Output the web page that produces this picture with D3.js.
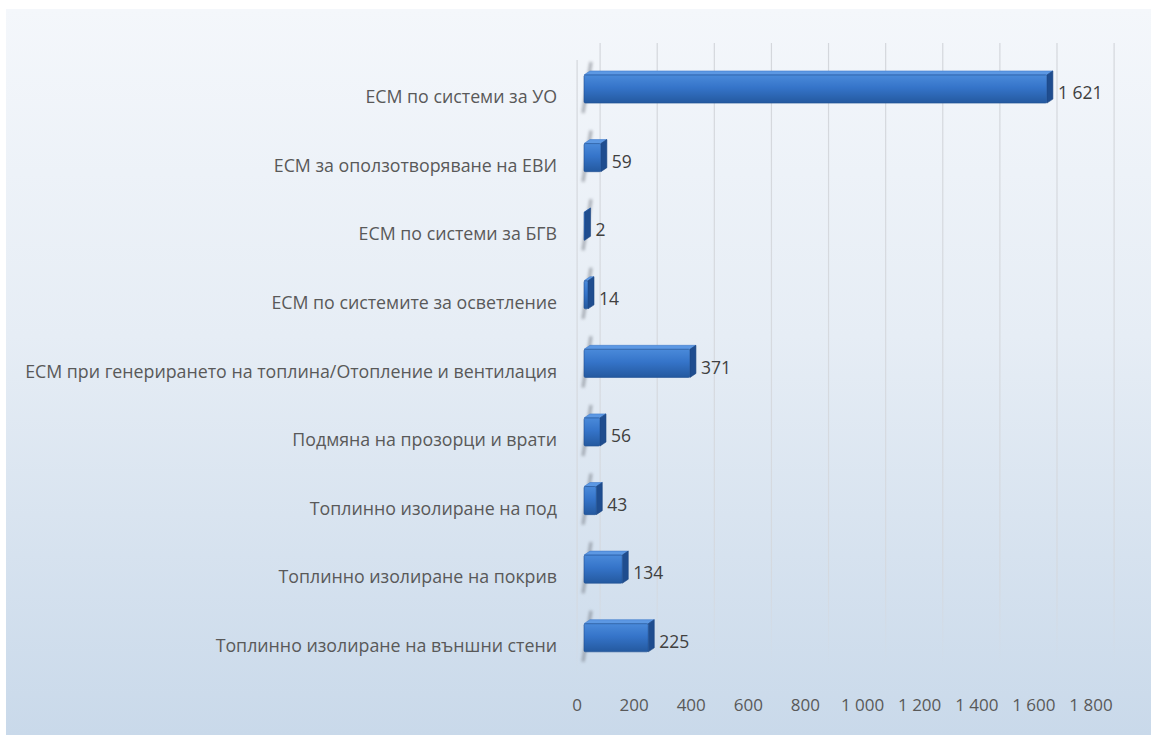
<!DOCTYPE html>
<meta charset="utf-8">
<style>
  body { margin: 0; background: #fff; }
  svg text { font-family: "Open Sans", sans-serif; }
</style>
<svg width="1151" height="735"></svg>
<script src="https://cdn.jsdelivr.net/npm/d3@7/dist/d3.min.js"></script>
<script>
// data
var categories = [
  "ЕСМ по системи за УО",
  "ЕСМ за оползотворяване на ЕВИ",
  "ЕСМ по системи за БГВ",
  "ЕСМ по системите за осветление",
  "ЕСМ при генерирането на топлина/Отопление и вентилация",
  "Подмяна на прозорци и врати",
  "Топлинно изолиране на под",
  "Топлинно изолиране на покрив",
  "Топлинно изолиране на външни стени"
];
var values = [1621, 59, 2, 14, 371, 56, 43, 134, 225];
var tickValues = [0, 200, 400, 600, 800, 1000, 1200, 1400, 1600, 1800];

var svg = d3.select("svg");
var fmt = d3.formatLocale({decimal: ",", thousands: "\u00a0", grouping: [3], currency: ["", ""]}).format(",d");

// layout
var x0 = 577;          // front 0 of value axis
var depthX = 23;       // back wall offset
var barDx = 6, barDy = 4;       // bar depth
var barX = x0 + 7;

var x = d3.scaleLinear().domain([0, 1800]).range([0, 514]);
var y = d3.scaleBand().domain(categories).range([54.4, 672.4]).paddingInner(0.59).paddingOuter(0.3);

var defs = svg.append("defs");
var bg = defs.append("linearGradient").attr("id", "bg").attr("x1", 0).attr("y1", 0).attr("x2", 0).attr("y2", 1);
bg.append("stop").attr("offset", "0%").attr("stop-color", "#f4f7fb");
bg.append("stop").attr("offset", "45%").attr("stop-color", "#e6edf5");
bg.append("stop").attr("offset", "100%").attr("stop-color", "#c9d9ea");

var front = defs.append("linearGradient").attr("id", "front").attr("x1", 0).attr("y1", 0).attr("x2", 0).attr("y2", 1);
front.append("stop").attr("offset", "0%").attr("stop-color", "#4a8ada");
front.append("stop").attr("offset", "45%").attr("stop-color", "#3574c9");
front.append("stop").attr("offset", "100%").attr("stop-color", "#24599f");

var grid = defs.append("linearGradient").attr("id", "gridfade").attr("x1", 0).attr("y1", 0).attr("x2", 0).attr("y2", 1);
grid.append("stop").attr("offset", "0%").attr("stop-color", "#d4d7dc").attr("stop-opacity", 1);
grid.append("stop").attr("offset", "85%").attr("stop-color", "#d4d7dc").attr("stop-opacity", 0.8);
grid.append("stop").attr("offset", "100%").attr("stop-color", "#d4d7dc").attr("stop-opacity", 0);

defs.append("filter").attr("id", "blur").attr("x", "-50%").attr("y", "-50%").attr("width", "200%").attr("height", "200%")
  .append("feGaussianBlur").attr("stdDeviation", 1.6);

// background
svg.append("rect").attr("x", 6).attr("y", 9).attr("width", 1145).attr("height", 726).attr("fill", "url(#bg)");

// back wall gridlines
svg.append("g").selectAll("rect")
  .data(tickValues)
  .enter().append("rect")
    .attr("x", function(d) { return x0 + depthX + x(d) - 0.5; })
    .attr("y", 43)
    .attr("width", 1.2)
    .attr("height", 625)
    .attr("fill", "url(#gridfade)");

// left wall front edge
svg.append("rect").attr("x", x0 - 0.5).attr("y", 60).attr("width", 1.2).attr("height", 620).attr("fill", "url(#gridfade)");

// bars
var bars = svg.append("g").selectAll("g")
  .data(categories)
  .enter().append("g");

// shadow on left wall
bars.append("path")
  .attr("d", function(d) {
    var t = y(d), b = t + y.bandwidth();
    return "M" + (barX + barDx + 1) + "," + (t - barDy - 9) + "L" + (barX - 1) + "," + (b + 10);
  })
  .attr("stroke", "#6a6f78").attr("stroke-width", 3).attr("opacity", 0.55)
  .attr("filter", "url(#blur)");

// top face
bars.append("path")
  .attr("d", function(d, i) {
    var t = y(d), w = x(values[i]);
    return "M" + barX + "," + t + "L" + (barX + barDx) + "," + (t - barDy) +
      "L" + (barX + w + barDx) + "," + (t - barDy) + "L" + (barX + w) + "," + t + "Z";
  })
  .attr("fill", "#5c98e3").attr("stroke", "#3f7bcb").attr("stroke-width", 0.6).attr("stroke-linejoin", "round");

// side face
bars.append("path")
  .attr("d", function(d, i) {
    var t = y(d), b = t + y.bandwidth(), w = x(values[i]);
    return "M" + (barX + w) + "," + t + "L" + (barX + w + barDx) + "," + (t - barDy) +
      "L" + (barX + w + barDx) + "," + (b - barDy) + "L" + (barX + w) + "," + b + "Z";
  })
  .attr("fill", "#1f4d8f").attr("stroke", "#1b4580").attr("stroke-width", 0.6).attr("stroke-linejoin", "round");

// front face
bars.append("rect")
  .attr("x", barX)
  .attr("y", function(d) { return y(d); })
  .attr("width", function(d, i) { return Math.max(x(values[i]), 0.8); })
  .attr("height", y.bandwidth())
  .attr("rx", 1.5)
  .attr("fill", "url(#front)")
  .attr("stroke", "#1f4f92").attr("stroke-width", 0.6);

// value labels
bars.append("text")
  .attr("x", function(d, i) { return barX + x(values[i]) + barDx + 5; })
  .attr("y", function(d) { return y(d) + y.bandwidth() / 2 + 4; })
  .attr("dy", "0.35em")
  .attr("font-size", 17.5)
  .attr("fill", "#404040")
  .text(function(d, i) { return fmt(values[i]); });

// category labels
svg.append("g").selectAll("text")
  .data(categories)
  .enter().append("text")
    .attr("x", 557)
    .attr("y", function(d) { return y(d) + y.bandwidth() / 2 + 8; })
    .attr("dy", "0.35em")
    .attr("text-anchor", "end")
    .attr("font-size", 17.8)
    .attr("fill", "#595959")
    .text(function(d) { return d; });

// value axis tick labels
svg.append("g").selectAll("text")
  .data(tickValues)
  .enter().append("text")
    .attr("x", function(d) { return x0 + x(d); })
    .attr("y", 705)
    .attr("dy", "0.35em")
    .attr("text-anchor", "middle")
    .attr("font-size", 17)
    .attr("fill", "#595959")
    .text(function(d) { return fmt(d); });
</script>
